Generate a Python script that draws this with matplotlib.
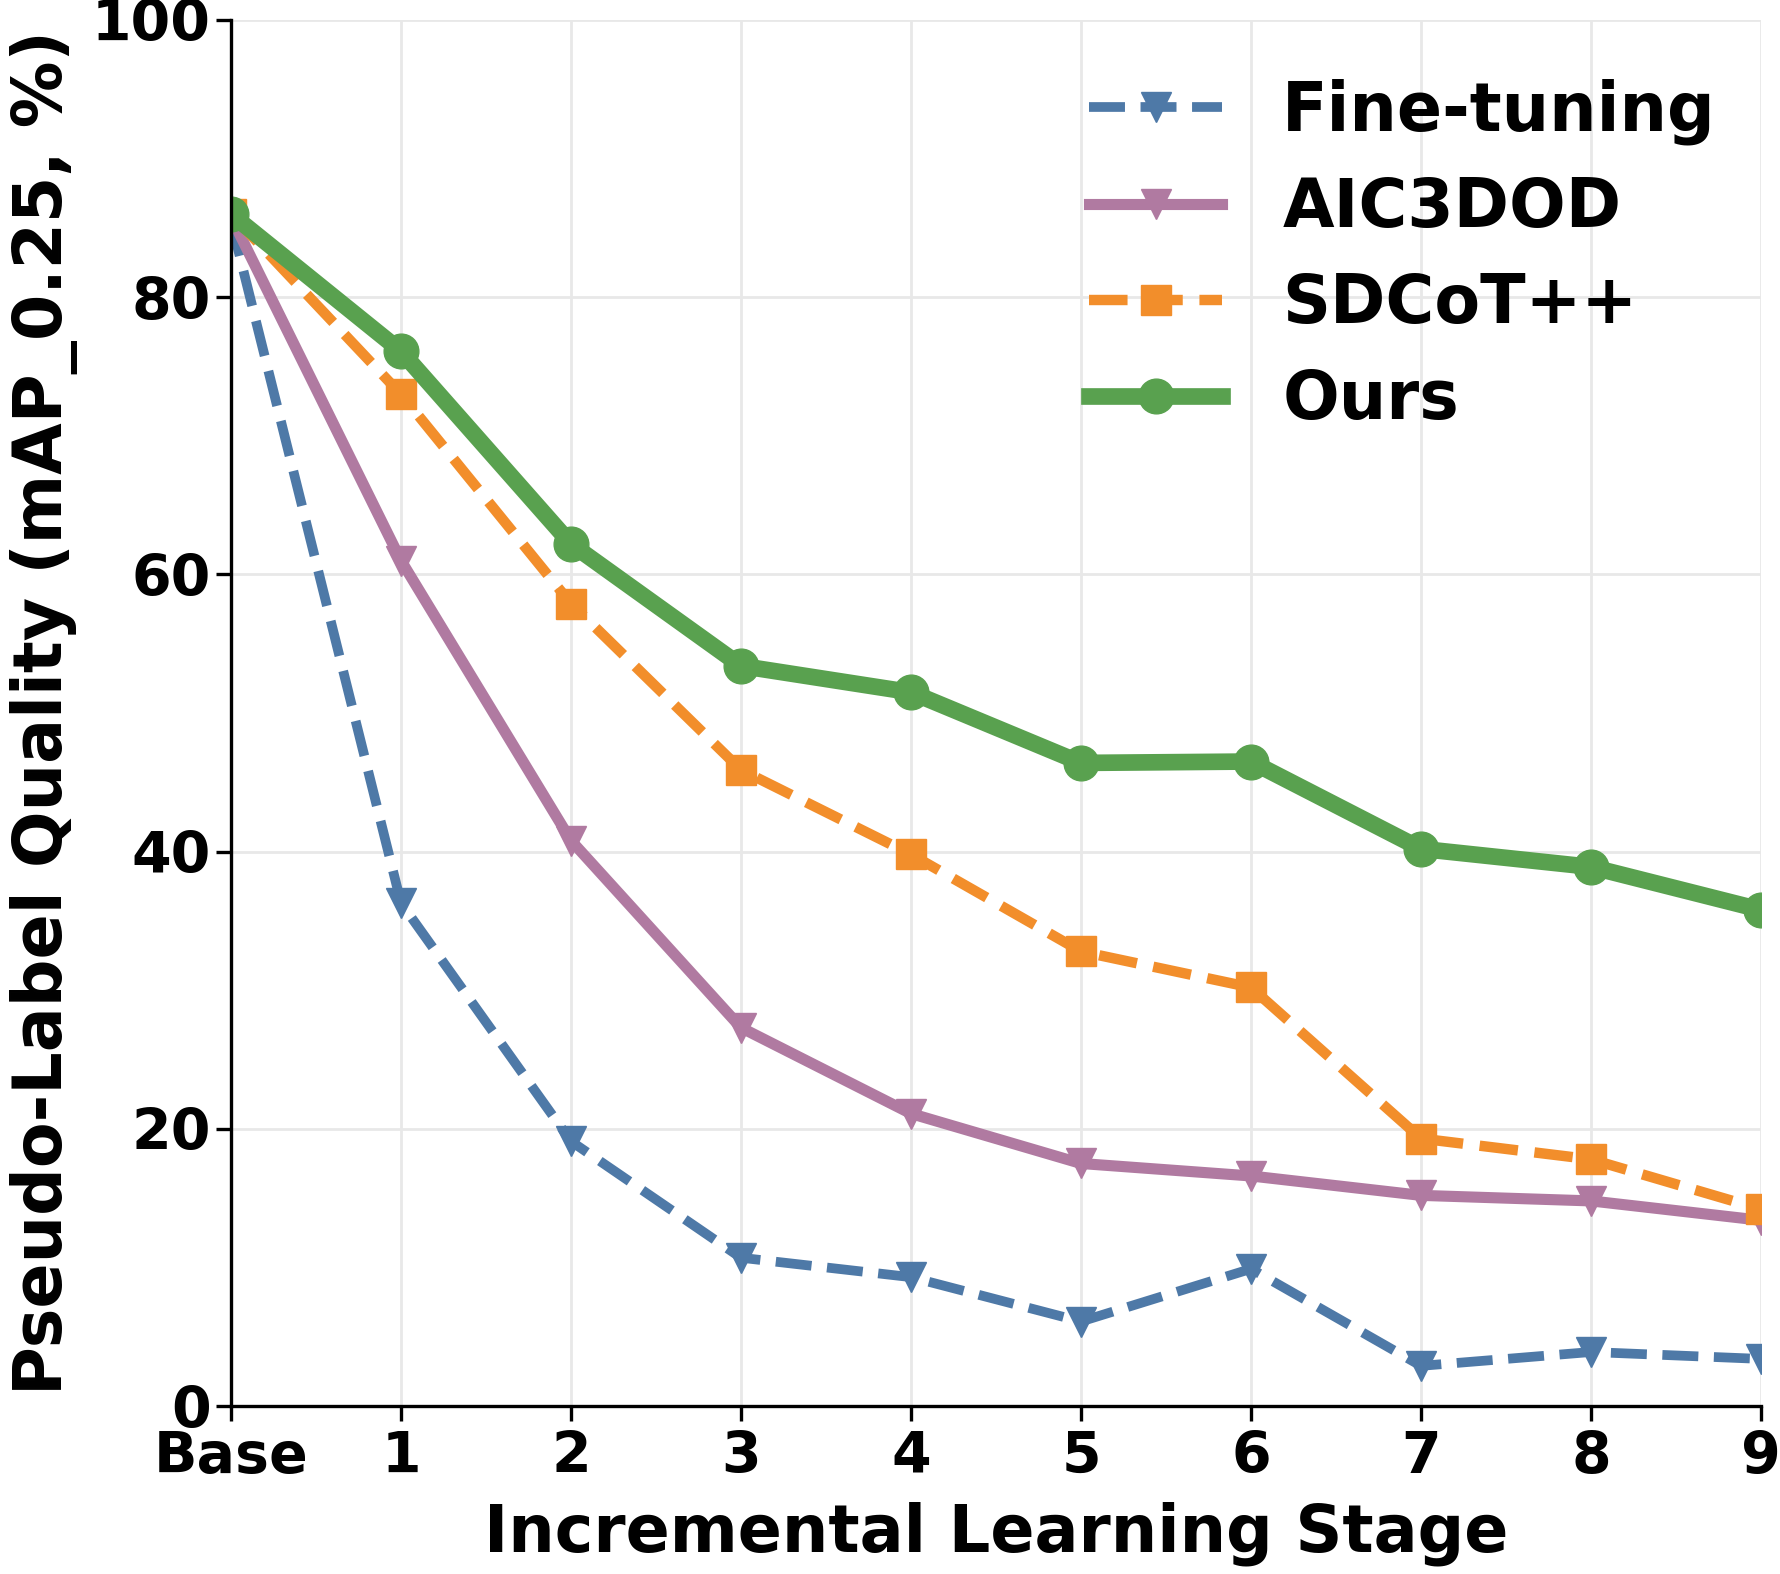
import matplotlib
matplotlib.use("Agg")
import matplotlib.pyplot as plt

stages = ["Base", "1", "2", "3", "4", "5", "6", "7", "8", "9"]
fine_tuning = [85.5, 36.3, 19.1, 10.7, 9.3, 6.1, 9.9, 2.9, 3.9, 3.4]
aic3dod = [85.8, 61.0, 40.8, 27.3, 21.1, 17.5, 16.6, 15.2, 14.8, 13.4]
sdcot = [86.0, 73.0, 57.9, 45.9, 39.8, 32.8, 30.2, 19.3, 17.8, 14.2]
ours = [86.0, 76.1, 62.2, 53.4, 51.5, 46.4, 46.5, 40.2, 38.9, 35.8]
yticks = [0, 20, 40, 60, 80, 100]

plt.rcParams['font.family'] = ['DejaVu Sans']
plt.rcParams['font.weight'] = 'bold'

fig = plt.figure(figsize=(17.81, 15.74), dpi=100)
ax = fig.add_axes([0.1297, 0.1067, 0.8591, 0.8806])

x = list(range(len(stages)))
ax.plot(x, fine_tuning, color="#4e79a7", lw=7, ls="--", marker="v", ms=22, label="Fine-tuning")
ax.plot(x, aic3dod, color="#b07aa1", lw=8, ls="-", marker="v", ms=22, label="AIC3DOD")
ax.plot(x, sdcot, color="#f28e2b", lw=7.5, ls="--", marker="s", ms=21, label="SDCoT++")
ax.plot(x, ours, color="#59a14f", lw=12, ls="-", marker="o", ms=25, label="Ours")

ax.set_xlim(0, 9)
ax.set_ylim(0, 100)
ax.set_xticks(x)
ax.set_xticklabels(stages)
ax.set_yticks(yticks)
ax.grid(True, color="#e8e8e8", lw=2)
ax.set_axisbelow(True)
for s in ["top", "right"]:
    ax.spines[s].set_visible(False)
for s in ["left", "bottom"]:
    ax.spines[s].set_linewidth(2.4)
ax.tick_params(axis="both", labelsize=41, width=2.4, length=11, direction="out")
ax.tick_params(axis="x", pad=6)
for lab in ax.get_xticklabels() + ax.get_yticklabels():
    lab.set_fontweight("bold")

ax.set_xlabel("Incremental Learning Stage", fontsize=47, fontweight="bold", labelpad=12)
ax.set_ylabel("Pseudo-Label Quality (mAP_0.25, %)", fontsize=48, fontweight="bold", labelpad=10)

leg = ax.legend(loc="upper right", frameon=False, handlelength=2.0,
                handletextpad=0.9, labelspacing=0.45, borderaxespad=0.0,
                bbox_to_anchor=(0.988, 0.977),
                prop={"size": 48, "weight": "bold"})

fig.savefig("out.png", dpi=100)
